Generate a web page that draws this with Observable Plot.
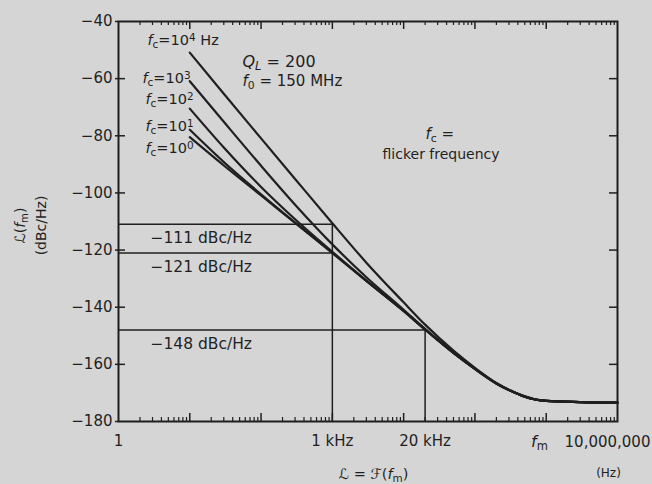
<!DOCTYPE html>
<html><head><meta charset="utf-8">
<script src="https://cdn.jsdelivr.net/npm/d3@7"></script>
<script src="https://cdn.jsdelivr.net/npm/@observablehq/plot@0.6"></script>
<style>
html,body{margin:0;padding:0;background:#d5d5d5;}
#chart svg{display:block;}
</style></head><body><div id="chart"></div>
<script>
// ---- data ----
const freqs = [10, 30, 100, 300, 1000, 3000, 10000, 20000, 50000, 100000, 200000, 300000, 500000, 700000, 1000000, 3000000, 10000000];
const fc1e0 = [-80.5, -90.4, -100.9, -110.5, -121.0, -130.8, -141.3, -147.8, -156.0, -161.6, -166.7, -169.0, -171.3, -172.3, -172.8, -173.2, -173.4];
const fc1e1 = [-77.9, -89.2, -100.5, -110.4, -121.0, -130.8, -141.3, -147.8, -156.0, -161.6, -166.7, -169.0, -171.3, -172.3, -172.8, -173.2, -173.4];
const fc1e2 = [-70.5, -84.1, -97.9, -109.2, -120.6, -130.7, -141.3, -147.8, -156.0, -161.6, -166.7, -169.0, -171.3, -172.3, -172.8, -173.2, -173.4];
const fc1e3 = [-60.9, -75.1, -90.5, -104.1, -118.0, -129.5, -140.9, -147.6, -155.9, -161.6, -166.7, -169.0, -171.3, -172.3, -172.8, -173.2, -173.4];
const fc1e4 = [-50.9, -65.3, -80.9, -95.1, -110.6, -124.4, -138.3, -146.1, -155.2, -161.2, -166.5, -168.9, -171.2, -172.2, -172.8, -173.2, -173.4];
const seriesExp = [0, 1, 2, 3, 4];
const seriesValues = [fc1e0, fc1e1, fc1e2, fc1e3, fc1e4];
const refLevels = [-111, -121, -148];
const refFreqs = [1000, 1000, 20000];
const yTicks = [-40, -60, -80, -100, -120, -140, -160, -180];
const xTickValues = [1, 1000, 20000];
const xTickLabels = ["1", "1 kHz", "20 kHz"];
const xEndLabel = "10,000,000";

// ---- tables built from the arrays ----
const curveRows = seriesExp.flatMap((e, k) => freqs.map((f, i) => ({series: e, f, db: seriesValues[k][i]})));
const refRows = refLevels.map((level, i) => ({level, freq: refFreqs[i], label: `−${Math.abs(level)} dBc/Hz`}));
const xLabelRows = xTickValues.map((v, i) => ({v, label: xTickLabels[i]}));
const minorTicks = [], majorTicks = [];
for (let d = 0; d < 7; d++) { for (let m = 2; m <= 9; m++) minorTicks.push(m * 10 ** d); if (d > 0) majorTicks.push(10 ** d); }
const innerY = yTicks.slice(1, -1);

const ink = "#1f1f1f";
const font = "DejaVu Sans";
const W = 652, H = 484, ML = 118, MR = 35, MT = 21, MB = 63;
const FW = W - ML - MR, FH = H - MT - MB;

// label layout (pixel offsets from frame top-left)
const curveLabelLayout = [
  {e: 4, dx: 29, dy: 19, suffix: " Hz"},
  {e: 3, dx: 24, dy: 57, suffix: ""},
  {e: 2, dx: 27, dy: 78, suffix: ""},
  {e: 1, dx: 27, dy: 105, suffix: ""},
  {e: 0, dx: 27, dy: 127, suffix: ""}
];

const tl = (text, dx, dy, size, extra = {}) => Plot.text([text], {frameAnchor: "top-left", lineAnchor: "middle", dx, dy, textAnchor: "start", fontSize: size, fill: ink, ...extra});

const chart = Plot.plot({
  width: W, height: H,
  marginLeft: ML, marginRight: MR, marginTop: MT, marginBottom: MB,
  x: {type: "log", domain: [1, 1e7], axis: null},
  y: {domain: [-180, -40]},
  style: {background: "#d5d5d5", fontFamily: font, fontSize: "14px", color: ink},
  marks: [
    Plot.ruleY(refRows, {y: "level", x1: 1, x2: "freq", stroke: ink, strokeWidth: 1.5}),
    Plot.ruleX([refRows[0], refRows[2]], {x: "freq", y1: "level", y2: -180, stroke: ink, strokeWidth: 1.5}),
    Plot.line(curveRows, {x: "f", y: "db", z: "series", curve: "monotone-x", stroke: ink, strokeWidth: 2.2}),
    // log ticks, inward, bottom and top
    Plot.tickX(minorTicks, {x: d => d, insetTop: FH - 4, stroke: ink, strokeWidth: 1.2}),
    Plot.tickX(majorTicks, {x: d => d, insetTop: FH - 8, stroke: ink, strokeWidth: 1.5}),
    Plot.tickX(minorTicks, {x: d => d, insetBottom: FH - 4, stroke: ink, strokeWidth: 1.2}),
    Plot.tickX(majorTicks, {x: d => d, insetBottom: FH - 8, stroke: ink, strokeWidth: 1.5}),
    // y ticks inward on both sides
    Plot.tickY(innerY, {y: d => d, insetRight: FW - 7, stroke: ink, strokeWidth: 1.5}),
    Plot.tickY(innerY, {y: d => d, insetLeft: FW - 8, stroke: ink, strokeWidth: 1.5}),
    Plot.frame({stroke: ink, strokeWidth: 2}),
    Plot.axisY({ticks: yTicks, tickSize: 3, tickPadding: 3, tickFormat: d => `−${Math.abs(d)}`, label: null, fontSize: 15, stroke: ink, strokeWidth: 1.5}),
    Plot.text(xLabelRows, {x: "v", text: "label", frameAnchor: "bottom", lineAnchor: "middle", dy: 20, fontSize: 15, fill: ink}),
    Plot.text([xEndLabel], {x: 1e7, frameAnchor: "bottom", lineAnchor: "middle", dy: 21, dx: -10, fontSize: 15, fill: ink}),
    Plot.text(["*f*_{m}"], {x: 1e7, frameAnchor: "bottom", lineAnchor: "middle", dy: 20, dx: -78, fontSize: 16, fill: ink}),
    Plot.text(["(Hz)"], {x: 1e7, frameAnchor: "bottom", lineAnchor: "middle", dy: 52, dx: -9, fontSize: 12, fill: ink}),
    Plot.text(["ℒ = ℱ(*f*_{m})"], {frameAnchor: "bottom-left", lineAnchor: "middle", textAnchor: "middle", dx: 255, dy: 53, fontSize: 14.5, fill: ink}),
    // y axis title
    Plot.text(["ℒ(*f*_{m})"], {frameAnchor: "left", textAnchor: "middle", dx: -98, dy: 4, rotate: -90, fontSize: 14, fill: ink}),
    Plot.text(["(dBc/Hz)"], {frameAnchor: "left", textAnchor: "middle", dx: -77, dy: 4, rotate: -90, fontSize: 14, fill: ink}),
    // reference labels
    Plot.text(refRows, {y: "level", text: "label", frameAnchor: "left", lineAnchor: "middle", dx: 32, dy: 14, textAnchor: "start", fontSize: 15.5, fill: ink}),
    // curve labels
    ...curveLabelLayout.map(l => tl(`*f*_{c}=10^{${l.e}}${l.suffix}`, l.dx, l.dy, 14.5)),
    tl("*Q*_{L} = 200", 124, 40, 16),
    tl("*f*_{0} = 150 MHz", 124, 60, 15),
    tl("*f*_{c} =", 307, 113, 15),
    tl("flicker frequency", 264, 133, 14)
  ]
});

// simple rich-text: *italic*, _{sub}, ^{sup}
const NS = "http://www.w3.org/2000/svg";
function rich(el) {
  const s = el.textContent;
  if (!/(\*|_\{|\^\{)/.test(s)) return;
  while (el.firstChild) el.removeChild(el.firstChild);
  let i = 0, italic = false, buf = "";
  const add = (str, shift) => {
    if (!str) return;
    const t = document.createElementNS(NS, "tspan");
    t.textContent = str;
    if (italic || (shift === "sub" && /L/.test(str))) t.setAttribute("font-style", "italic");
    if (shift) { t.setAttribute("baseline-shift", shift === "sub" ? "-25%" : "40%"); t.setAttribute("font-size", "0.72em"); }
    el.appendChild(t);
  };
  const flush = () => { add(buf, null); buf = ""; };
  while (i < s.length) {
    const ch = s[i];
    if ((ch === "_" || ch === "^") && s[i + 1] === "{") {
      flush();
      const j = s.indexOf("}", i);
      const wasItalic = italic; italic = false;
      add(s.slice(i + 2, j), ch === "_" ? "sub" : "sup");
      italic = wasItalic;
      i = j + 1; continue;
    }
    if (ch === "*") { flush(); italic = !italic; i++; continue; }
    buf += ch; i++;
  }
  flush();
}
chart.querySelectorAll("text").forEach(rich);
document.getElementById("chart").appendChild(chart);
</script></body></html>
